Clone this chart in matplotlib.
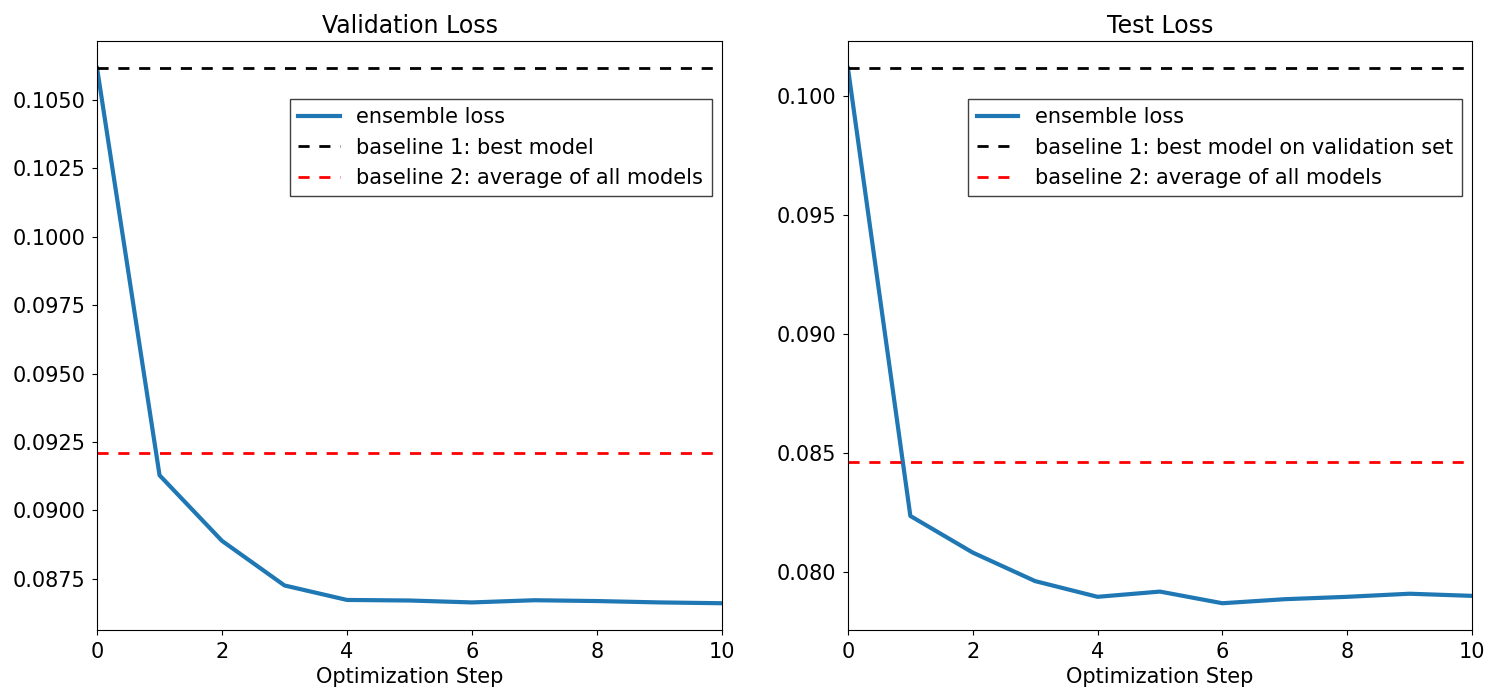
import numpy as np
import matplotlib
matplotlib.use("Agg")
import matplotlib.pyplot as plt

steps = np.arange(11)

# validation
val_ensemble = [0.10617, 0.09128, 0.08888, 0.08725, 0.08672, 0.08670,
                0.08663, 0.08671, 0.08668, 0.08663, 0.08660]
val_best = 0.10617
val_avg = 0.09210

# test
test_ensemble = [0.10118, 0.08235, 0.08081, 0.07961, 0.07895, 0.07917,
                 0.07868, 0.07885, 0.07895, 0.07908, 0.07899]
test_best = 0.10118
test_avg = 0.08463

plt.rcParams['font.size'] = 15
plt.rcParams['xtick.major.size'] = 3.5
plt.rcParams['ytick.major.size'] = 3.5
plt.rcParams['xtick.major.pad'] = 5
plt.rcParams['ytick.major.pad'] = 5

fig = plt.figure(figsize=(15, 7), dpi=100)
ax1 = fig.add_axes([0.0647, 0.1, 0.4166, 0.841])
ax2 = fig.add_axes([0.5653, 0.1, 0.4160, 0.841])

panels = [
    (ax1, val_ensemble, val_best, val_avg, 'Validation Loss', 'baseline 1: best model'),
    (ax2, test_ensemble, test_best, test_avg, 'Test Loss', 'baseline 1: best model on validation set'),
]

for ax, ens, best, avg, title, best_label in panels:
    ax.plot(steps, ens, color='#1f77b4', lw=3, label='ensemble loss')
    ax.axhline(best, color='black', lw=2, dashes=(4, 3.5), label=best_label)
    ax.axhline(avg, color='red', lw=2, dashes=(4, 3.5), label='baseline 2: average of all models')
    ax.set_xlim(0, 10)
    ax.set_xlabel('Optimization Step')
    ax.set_title(title, fontsize=17)
    leg = ax.legend(loc='upper right', bbox_to_anchor=(1, 0.92), fancybox=False,
                    edgecolor='0.25', framealpha=1)
    leg.get_frame().set_linewidth(1.0)

ax1.set_yticks(np.arange(0.0875, 0.1051, 0.0025))
ax1.yaxis.set_major_formatter(matplotlib.ticker.FormatStrFormatter('%.4f'))
ax2.set_yticks(np.arange(0.080, 0.1001, 0.005))
ax2.yaxis.set_major_formatter(matplotlib.ticker.FormatStrFormatter('%.3f'))

fig.savefig('out.png')
